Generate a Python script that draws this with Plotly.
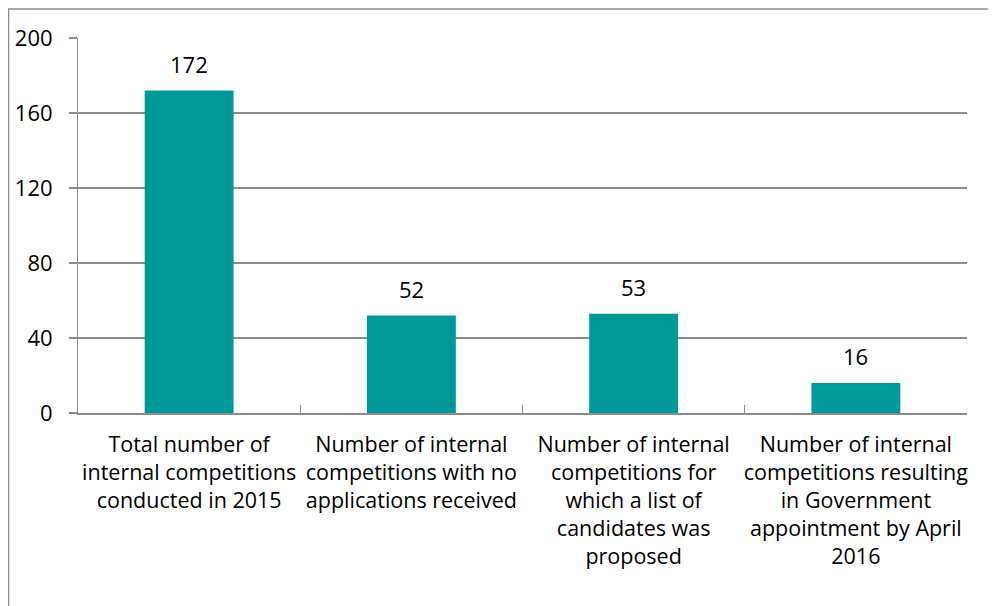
import plotly.graph_objects as go

categories = [
    "Total number of<br>internal competitions<br>conducted in 2015",
    "Number of internal<br>competitions with no<br>applications received",
    "Number of internal<br>competitions for<br>which a list of<br>candidates was<br>proposed",
    "Number of internal<br>competitions resulting<br>in Government<br>appointment by April<br>2016",
]
values = [172, 52, 53, 16]
y_ticks = [0, 40, 80, 120, 160, 200]

FONT = "Open Sans"
BAR = "#00999A"
GRID = "#8C8C8C"

W, H = 988, 598
L, R, T, B = 70, 29, 30, 193
PW, PH = W - L - R, H - T - B

fig = go.Figure()
fig.add_trace(go.Bar(
    x=categories, y=values, width=0.4,
    marker=dict(color=BAR, line=dict(width=0)),
    hoverinfo="skip",
))
for c, v in zip(categories, values):
    fig.add_annotation(x=c, y=v, text=str(v), showarrow=False,
                       yanchor="bottom", yshift=10,
                       font=dict(family=FONT, size=22, color="#000000"))

fig.update_layout(
    width=W, height=H,
    margin=dict(l=L, r=R, t=T, b=B, autoexpand=False),
    paper_bgcolor="white", plot_bgcolor="white",
    showlegend=False, bargap=0.6,
    font=dict(family=FONT, size=22, color="#000000"),
    xaxis=dict(
        showline=True, linecolor=GRID, linewidth=2,
        ticks="inside", tickson="boundaries", ticklen=8, tickcolor=GRID, tickwidth=1,
        showgrid=False, tickfont=dict(family=FONT, size=21.5, color="#000000"),
        tickangle=0, ticklabelstandoff=11, fixedrange=True,
    ),
    yaxis=dict(
        range=[0, 200], tickvals=y_ticks, ticktext=[str(t) for t in y_ticks],
        showline=True, linecolor=GRID, linewidth=1,
        ticks="outside", ticklen=8, tickcolor=GRID, tickwidth=2,
        showgrid=True, gridcolor=GRID, gridwidth=2, zeroline=False,
        tickfont=dict(family=FONT, size=22, color="#000000"),
        ticklabelstandoff=12, fixedrange=True,
    ),
    shapes=[
        dict(type="line", xref="paper", yref="paper",
             x0=(0 - L) / PW, x1=(W - L) / PW, y0=(H - B - 1) / PH, y1=(H - B - 1) / PH,
             line=dict(color="#8C8C8C", width=1.5)),
        dict(type="line", xref="paper", yref="paper",
             x0=(0.5 - L) / PW, x1=(0.5 - L) / PW, y0=(H - B - 1) / PH, y1=-B / PH,
             line=dict(color="#8C8C8C", width=1.5)),
    ],
)
fig.write_html("out.html")
